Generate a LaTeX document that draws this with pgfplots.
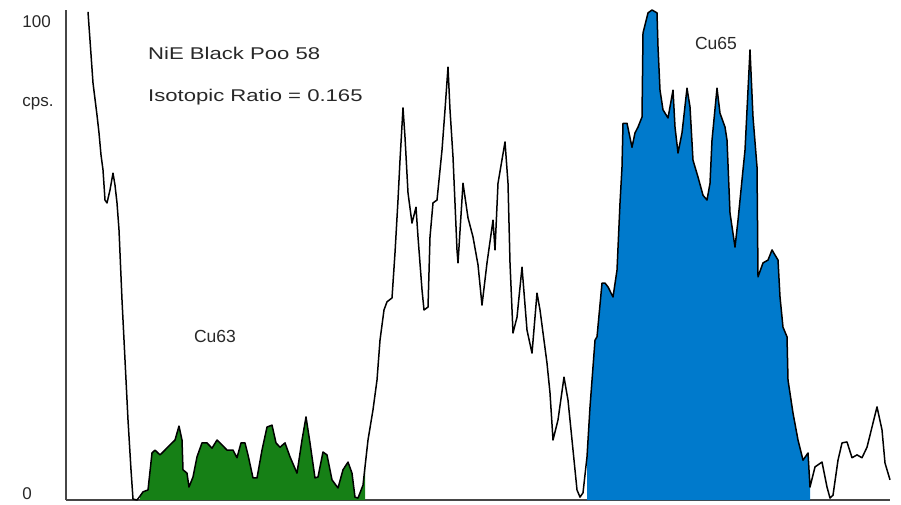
\documentclass[border=0pt]{standalone}
\usepackage{pgfplots}
\pgfplotsset{compat=1.18}
\usepackage{fontspec}
\setmainfont{Liberation Sans}
\usepackage{graphicx}
\definecolor{cugreen}{RGB}{22,128,22}
\definecolor{cublue}{RGB}{0,122,204}
\definecolor{axisgray}{RGB}{70,70,70}
\definecolor{txt}{RGB}{40,40,40}
\begin{document}
\begin{tikzpicture}
\useasboundingbox (0,0) rectangle (901pt,504pt);
\begin{axis}[
  at={(66pt,4pt)}, anchor=south west,
  scale only axis, width=824pt, height=490pt,
  xmin=66, xmax=890, ymin=0, ymax=102.1,
  axis lines*=left,
  axis line style={axisgray, line width=1.8pt},
  xtick=\empty,
  ytick={0}, yticklabels={0},
  extra y ticks={100,83.0}, extra y tick labels={100,cps.},
  major tick length=0pt,
  yticklabel style={text width=40pt, align=left, text=txt, font=\fontsize{17}{20}\selectfont, yshift=6pt},
  extra y tick style={yticklabel style={yshift=-8pt}},
  clip=false,
]
% Cu63 integrated area
\addplot[draw=none, fill=cugreen] coordinates {
(140,0.8)(143,1.7)(148,2.1)(152,9.8)(155,10.4)(160,9.4)(163,10.0)(170,11.5)(175,12.5)(179,15.4)(182,12.5)(183,6.3)(187,5.6)(189,2.7)(193,4.8)(197,9.0)(202,11.9)(207,11.9)(212,10.8)(217,12.5)(222,11.5)(227,10.4)(233,10.4)(237,8.8)(241,11.9)(245,11.9)(248,9.4)(253,4.6)(257,4.6)(262,10.4)(267,15.2)(272,15.6)(276,11.9)(280,11.0)(285,11.9)(290,9.0)(297,5.6)(302,12.5)(306,17.3)(310,11.9)(315,4.6)(318,4.8)(323,10.0)(327,9.4)(332,4.2)(338,2.5)(343,6.3)(348,7.9)(352,5.6)(355,0.6)(358,0.4)(363,3.1)(365,6.9)
} \closedcycle;
% Cu65 integrated area
\addplot[draw=none, fill=cublue] coordinates {
(587,9.0)(590,19.4)(595,33.3)(597,34.0)(602,45.2)(605,45.2)(608,44.4)(613,42.3)(617,47.9)(620,61.9)(622,69.4)(623,78.5)(627,78.5)(632,73.5)(635,76.5)(638,77.7)(642,79.8)(643,97.3)(648,101.5)(652,102.1)(657,101.5)(658,94.4)(660,85.4)(663,81.3)(668,79.6)(673,85.4)(675,77.7)(678,72.3)(682,76.5)(687,85.8)(690,81.9)(693,70.8)(698,67.3)(703,63.5)(707,62.5)(710,66.0)(712,75.0)(717,85.8)(720,80.6)(725,77.7)(727,75.0)(730,59.8)(735,52.7)(738,58.3)(743,68.8)(745,72.9)(750,93.8)(753,79.8)(757,69.4)(758,46.5)(763,49.4)(768,50.0)(772,52.1)(778,50.0)(780,42.3)(783,36.0)(787,34.0)(788,25.0)(793,18.1)(798,12.5)(803,8.3)(808,9.8)(810,2.7)
} \closedcycle;
% spectrum
\addplot[black, line width=1.5pt, line join=round] coordinates {
(88,101.7)(90,95.8)(93,86.9)(97,80.2)(99,76.5)(101,71.9)(103,68.8)(105,62.5)(107,61.9)(110,64.6)(113,68.1)(115,65.6)(117,61.9)(119,56.3)(122,41.7)(125,29.2)(128,16.7)(131,6.3)(133,0.2)(137,0)
(140,0.8)(143,1.7)(148,2.1)(152,9.8)(155,10.4)(160,9.4)(163,10.0)(170,11.5)(175,12.5)(179,15.4)(182,12.5)(183,6.3)(187,5.6)(189,2.7)(193,4.8)(197,9.0)(202,11.9)(207,11.9)(212,10.8)(217,12.5)(222,11.5)(227,10.4)(233,10.4)(237,8.8)(241,11.9)(245,11.9)(248,9.4)(253,4.6)(257,4.6)(262,10.4)(267,15.2)(272,15.6)(276,11.9)(280,11.0)(285,11.9)(290,9.0)(297,5.6)(302,12.5)(306,17.3)(310,11.9)(315,4.6)(318,4.8)(323,10.0)(327,9.4)(332,4.2)(338,2.5)(343,6.3)(348,7.9)(352,5.6)(355,0.6)(358,0.4)(363,3.1)(365,6.9)
(368,12.5)(373,18.8)(377,25.0)(380,33.3)(384,39.6)(387,41.3)(392,42.1)(395,51.5)(398,62.5)(400,70.8)(403,81.7)(405,75.6)(408,64.0)(412,57.7)(416,61.0)(418,54.8)(422,43.8)(424,39.6)(428,40.2)(430,54.8)(433,61.9)(437,62.5)(442,72.9)(445,81.3)(448,90.2)(450,81.3)(453,71.5)(457,52.1)(458,49.4)(463,66.0)(468,58.8)(473,54.8)(478,49.0)(482,40.6)(487,49.4)(493,58.3)(495,52.1)(498,66.0)(505,74.6)(508,66.0)(510,49.4)(513,34.8)(517,38.1)(522,48.5)(527,35.4)(532,30.6)(537,43.1)(540,39.6)(547,28.5)(550,22.3)(553,12.5)(558,16.7)(564,25.6)(568,20.8)(572,12.5)(577,2.1)(580,0.6)(583,1.5)
(587,9.0)(590,19.4)(595,33.3)(597,34.0)(602,45.2)(605,45.2)(608,44.4)(613,42.3)(617,47.9)(620,61.9)(622,69.4)(623,78.5)(627,78.5)(632,73.5)(635,76.5)(638,77.7)(642,79.8)(643,97.3)(648,101.5)(652,102.1)(657,101.5)(658,94.4)(660,85.4)(663,81.3)(668,79.6)(673,85.4)(675,77.7)(678,72.3)(682,76.5)(687,85.8)(690,81.9)(693,70.8)(698,67.3)(703,63.5)(707,62.5)(710,66.0)(712,75.0)(717,85.8)(720,80.6)(725,77.7)(727,75.0)(730,59.8)(735,52.7)(738,58.3)(743,68.8)(745,72.9)(750,93.8)(753,79.8)(757,69.4)(758,46.5)(763,49.4)(768,50.0)(772,52.1)(778,50.0)(780,42.3)(783,36.0)(787,34.0)(788,25.0)(793,18.1)(798,12.5)(803,8.3)(808,9.8)(810,2.7)
(815,6.9)(822,7.9)(827,2.7)(830,0.4)(833,1.0)(838,8.3)(842,11.9)(847,12.1)(852,8.8)(857,9.4)(862,8.8)(867,11.0)(872,15.2)(877,19.4)(882,14.6)(885,7.7)(890,4.2)
};
\node[anchor=west, inner sep=0pt, text=txt] at (axis cs:148,93.1) {\scalebox{1.3}[1]{\fontsize{17}{20}\selectfont NiE Black Poo 58}};
\node[anchor=west, inner sep=0pt, text=txt] at (axis cs:148,84.0) {\scalebox{1.3}[1]{\fontsize{17}{20}\selectfont Isotopic Ratio = 0.165}};
\node[inner sep=0pt, text=txt] at (axis cs:716,95.2) {\fontsize{17.5}{20}\selectfont Cu65};
\node[inner sep=0pt, text=txt] at (axis cs:215,34.0) {\fontsize{17.5}{20}\selectfont Cu63};
\end{axis}
\end{tikzpicture}
\end{document}
